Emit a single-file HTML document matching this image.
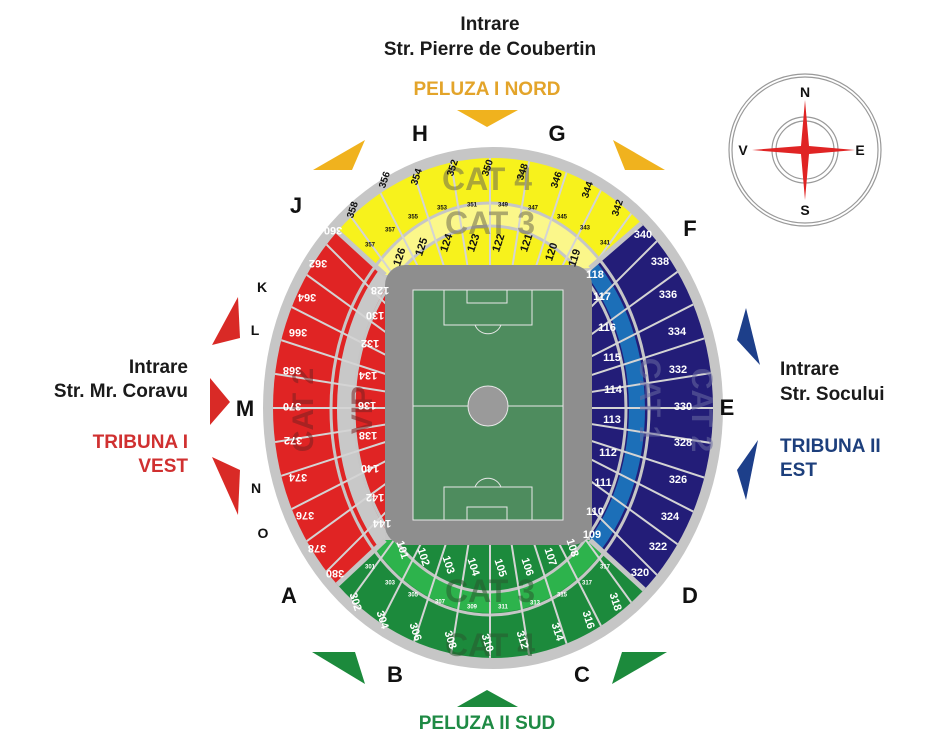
<!DOCTYPE html>
<html><head><meta charset="utf-8"><style>
html,body{margin:0;padding:0;background:#fff;width:937px;height:739px;overflow:hidden}
svg{display:block}
text{font-family:"Liberation Sans",sans-serif}
</style></head><body>
<svg id="s" width="937" height="739" viewBox="0 0 937 739" xmlns="http://www.w3.org/2000/svg">
<defs>
<clipPath id="cy"><polygon points="385,275 150,60 830,60 590,268"/></clipPath>
<clipPath id="cb"><polygon points="590,268 830,60 830,760 590,540"/></clipPath>
<clipPath id="cg"><polygon points="590,540 830,760 150,760 385,540"/></clipPath>
<clipPath id="cr"><polygon points="385,275 150,60 150,760 385,540"/></clipPath>
<clipPath id="stand"><ellipse cx="493" cy="408" rx="220" ry="250"/></clipPath>
</defs>
<ellipse cx="493" cy="408" rx="230" ry="261" fill="#c6c6c6"/>
<g clip-path="url(#stand)">
 <rect x="0" y="0" width="937" height="739" fill="#f7f21c" clip-path="url(#cy)"/>
 <rect x="0" y="0" width="937" height="739" fill="#231d78" clip-path="url(#cb)"/>
 <rect x="0" y="0" width="937" height="739" fill="#1c8a3c" clip-path="url(#cg)"/>
 <rect x="0" y="0" width="937" height="739" fill="#e02424" clip-path="url(#cr)"/>
 <ellipse cx="490" cy="409" rx="147" ry="194" fill="none" stroke="#fbf78a" stroke-width="22" clip-path="url(#cy)"/>
 <ellipse cx="490" cy="409" rx="147" ry="194" fill="none" stroke="#1c6fb8" stroke-width="16" clip-path="url(#cb)"/>
 <ellipse cx="490" cy="409" rx="147" ry="194" fill="none" stroke="#2db34c" stroke-width="20" clip-path="url(#cg)"/>
 <ellipse cx="490" cy="409" rx="145" ry="194" fill="none" stroke="#c8c8c8" stroke-width="16" clip-path="url(#cr)"/>
 <ellipse cx="490" cy="409" rx="159" ry="206" fill="none" stroke="#c6c6c6" stroke-width="3"/>
 <ellipse cx="490" cy="409" rx="136" ry="183" fill="none" stroke="#c6c6c6" stroke-width="3"/>
 <g id="rad" stroke="#d4d4d4" stroke-width="2"></g>
 <g stroke="#c6c6c6" stroke-width="5">
  <line x1="385" y1="275" x2="150" y2="60"/><line x1="590" y1="268" x2="830" y2="60"/>
  <line x1="590" y1="540" x2="830" y2="760"/><line x1="385" y1="540" x2="150" y2="760"/>
 </g>
</g>
<rect x="385" y="265" width="207" height="280" rx="20" fill="#8e8e8e"/>
<rect x="413" y="290" width="150" height="230" fill="#4e8c5e" stroke="#e8e8e8" stroke-width="1"/>
<g fill="none" stroke="#e8e8e8" stroke-width="1">
 <line x1="413" y1="406" x2="563" y2="406"/>
 <circle cx="488" cy="406" r="20" fill="#9a9a9a"/>
 <rect x="444" y="290" width="88" height="35"/><rect x="467" y="290" width="40" height="13"/>
 <rect x="444" y="487" width="88" height="33"/><rect x="467" y="507" width="40" height="13"/>
 <path d="M475 325 A14 14 0 0 0 501 325"/><path d="M475 487 A14 14 0 0 1 501 487"/>
</g>
<g fill="#6e6a50" fill-opacity="0.55" font-weight="bold" text-anchor="middle">
 <text x="487" y="190" font-size="32">CAT 4</text>
 <text x="490" y="234" font-size="32">CAT 3</text>
 <text x="490" y="602" font-size="32" fill="#2a5a30">CAT 3</text>
 <text x="490" y="656" font-size="32" fill="#2a5a30">CAT 4</text>
 <text x="0" y="0" transform="translate(313,410) rotate(-90)" font-size="30" fill="#7a2020">CAT 2</text>
 <text x="0" y="0" transform="translate(372,410) rotate(-90)" font-size="30" fill="#7a2020">VIP</text>
 <text x="0" y="0" transform="translate(640,400) rotate(90)" font-size="30" fill="#6a6aa0">CAT 1</text>
 <text x="0" y="0" transform="translate(692,410) rotate(90)" font-size="30" fill="#6a6aa0">CAT 2</text>
</g>
<g id="lab" font-weight="bold" text-anchor="middle" dominant-baseline="middle"></g>
<g fill="#f0b21e">
 <polygon points="457,110 518,110 487,127"/>
 <polygon points="313,170 365,140 352,170"/>
 <polygon points="613,140 665,170 625,170"/>
</g>
<g fill="#d92a26">
 <polygon points="238,297 212,345 240,338"/>
 <polygon points="210,378 230,402 210,425"/>
 <polygon points="212,457 240,470 238,515"/>
</g>
<g fill="#1d3f8a">
 <polygon points="746,308 737,340 760,365"/>
 <polygon points="758,440 737,470 746,500"/>
</g>
<g fill="#1c8a3c">
 <polygon points="312,652 355,652 365,684"/>
 <polygon points="667,652 622,652 612,684"/>
 <polygon points="457,707 518,707 487,690"/>
</g>
<g font-weight="bold" fill="#111" text-anchor="middle" font-size="22">
 <text x="420" y="141">H</text><text x="557" y="141">G</text><text x="296" y="213">J</text>
 <text x="690" y="236">F</text><text x="727" y="415">E</text><text x="690" y="603">D</text>
 <text x="289" y="603">A</text><text x="395" y="682">B</text><text x="582" y="682">C</text>
 <text x="245" y="416">M</text>
 <text x="262" y="292" font-size="14">K</text><text x="255" y="335" font-size="14">L</text>
 <text x="256" y="493" font-size="14">N</text><text x="263" y="538" font-size="14">O</text>
</g>
<g font-weight="bold" font-size="19" fill="#1a1a1a" text-anchor="middle">
 <text x="490" y="30">Intrare</text><text x="490" y="55">Str. Pierre de Coubertin</text>
 <text x="487" y="95" fill="#e3a42a">PELUZA I NORD</text>
 <text x="487" y="729" fill="#1e8a44">PELUZA II SUD</text>
</g>
<g font-weight="bold" font-size="19" text-anchor="end">
 <text x="188" y="373" fill="#1a1a1a">Intrare</text><text x="188" y="397" fill="#1a1a1a">Str. Mr. Coravu</text>
 <text x="188" y="448" fill="#d03030">TRIBUNA I</text><text x="188" y="472" fill="#d03030">VEST</text>
</g>
<g font-weight="bold" font-size="19">
 <text x="780" y="375" fill="#1a1a1a">Intrare</text><text x="780" y="400" fill="#1a1a1a">Str. Socului</text>
 <text x="780" y="452" fill="#1d3f7c">TRIBUNA II</text><text x="780" y="476" fill="#1d3f7c">EST</text>
</g>
<g>
 <circle cx="805" cy="150" r="76" fill="none" stroke="#999" stroke-width="1.2"/>
 <circle cx="805" cy="150" r="73" fill="none" stroke="#999" stroke-width="1.2"/>
 <circle cx="805" cy="150" r="33" fill="none" stroke="#999" stroke-width="1.2"/>
 <circle cx="805" cy="150" r="29" fill="none" stroke="#999" stroke-width="1.2"/>
 <polygon points="805,100 809,146 855,150 809,154 805,200 801,154 752,150 801,146" fill="#e02424"/>
 <g font-family="Liberation Serif" font-weight="bold" font-size="14" text-anchor="middle" fill="#111">
  <text x="805" y="97">N</text><text x="805" y="215">S</text><text x="743" y="155">V</text><text x="860" y="155">E</text>
 </g>
</g>
<script>
var NS="http://www.w3.org/2000/svg";
var rad=document.getElementById("rad");
for(var a=0;a<360;a+=9){var r=a*Math.PI/180;var l=document.createElementNS(NS,"line");
l.setAttribute("x1",490);l.setAttribute("y1",408);l.setAttribute("x2",490+400*Math.cos(r));l.setAttribute("y2",408+400*Math.sin(r));rad.appendChild(l);}
var L=[
[358,353,210,"#111",10,1],[356,385,180,"#111",10,1],[354,417,177,"#111",10,1],[352,453,168,"#111",10,1],[350,488,168,"#111",10,1],[348,523,172,"#111",10,1],[346,557,180,"#111",10,1],[344,588,190,"#111",10,1],[342,618,208,"#111",10,1],
[126,400,257,"#111",11,1],[125,422,247,"#111",11,1],[124,447,243,"#111",11,1],[123,474,243,"#111",11,1],[122,499,243,"#111",11,1],[121,527,243,"#111",11,1],[120,552,252,"#111",11,1],[119,575,258,"#111",11,1],
[357,370,245,"#111",6,0],[357,390,230,"#111",6,0],[355,413,217,"#111",6,0],[353,442,208,"#111",6,0],[351,472,205,"#111",6,0],[349,503,205,"#111",6,0],[347,533,208,"#111",6,0],[345,562,217,"#111",6,0],[343,585,228,"#111",6,0],[341,605,243,"#111",6,0],
[340,643,235,"#fff",11,0],[338,660,262,"#fff",11,0],[336,668,295,"#fff",11,0],[334,677,332,"#fff",11,0],[332,678,370,"#fff",11,0],[330,683,407,"#fff",11,0],[328,683,443,"#fff",11,0],[326,678,480,"#fff",11,0],[324,670,517,"#fff",11,0],[322,658,547,"#fff",11,0],[320,640,573,"#fff",11,0],
[118,595,275,"#fff",11,0],[117,602,297,"#fff",11,0],[116,607,328,"#fff",11,0],[115,612,358,"#fff",11,0],[114,613,390,"#fff",11,0],[113,612,420,"#fff",11,0],[112,608,453,"#fff",11,0],[111,603,483,"#fff",11,0],[110,595,512,"#fff",11,0],[109,592,535,"#fff",11,0],
[360,333,230,"#fff",11,2],[362,318,263,"#fff",11,2],[364,307,297,"#fff",11,2],[366,298,332,"#fff",11,2],[368,292,370,"#fff",11,2],[370,292,406,"#fff",11,2],[372,293,440,"#fff",11,2],[374,298,477,"#fff",11,2],[376,305,515,"#fff",11,2],[378,317,548,"#fff",11,2],[380,335,573,"#fff",11,2],
[128,380,290,"#fff",11,2],[130,375,315,"#fff",11,2],[132,370,343,"#fff",11,2],[134,368,375,"#fff",11,2],[136,367,405,"#fff",11,2],[138,368,435,"#fff",11,2],[140,370,468,"#fff",11,2],[142,375,497,"#fff",11,2],[144,382,523,"#fff",11,2],
[101,402,550,"#fff",11,3],[102,423,557,"#fff",11,3],[103,448,565,"#fff",11,3],[104,473,567,"#fff",11,3],[105,500,568,"#fff",11,3],[106,527,567,"#fff",11,3],[107,550,557,"#fff",11,3],[108,572,548,"#fff",11,3],
[301,370,567,"#fff",6,0],[303,390,583,"#fff",6,0],[305,413,595,"#fff",6,0],[307,440,602,"#fff",6,0],[309,472,607,"#fff",6,0],[311,503,607,"#fff",6,0],[313,535,603,"#fff",6,0],[315,562,595,"#fff",6,0],[317,587,583,"#fff",6,0],[317,605,567,"#fff",6,0],
[302,355,602,"#fff",11,3],[304,382,620,"#fff",11,3],[306,415,632,"#fff",11,3],[308,450,640,"#fff",11,3],[310,487,643,"#fff",11,3],[312,522,640,"#fff",11,3],[314,557,632,"#fff",11,3],[316,588,620,"#fff",11,3],[318,615,602,"#fff",11,3]
];
var g=document.getElementById("lab");
L.forEach(function(d){var t=document.createElementNS(NS,"text");t.textContent=d[0];
t.setAttribute("x",d[1]);t.setAttribute("y",d[2]);t.setAttribute("fill",d[3]);t.setAttribute("font-size",d[4]);
var rot={1:-72,2:180,3:72}[d[5]];
if(rot)t.setAttribute("transform","rotate("+rot+" "+d[1]+" "+d[2]+")");
g.appendChild(t);});
</script>
</svg>
</body></html>
